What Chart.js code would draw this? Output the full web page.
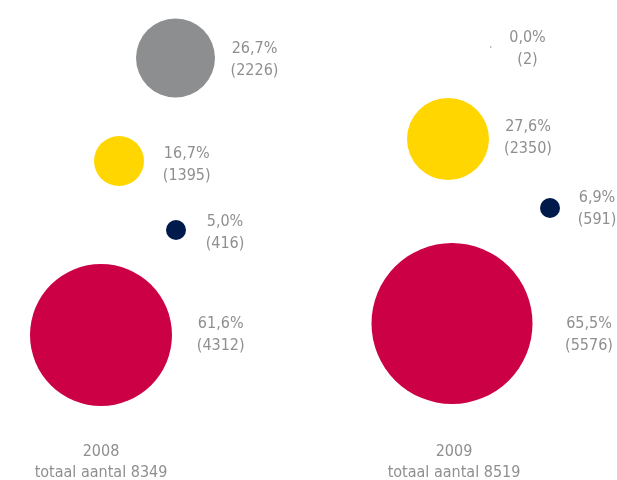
<!DOCTYPE html>
<html>
<head>
<meta charset="utf-8">
<script src="https://cdn.jsdelivr.net/npm/chart.js@4"></script>
<style>
  html, body { margin: 0; padding: 0; background: #ffffff; }
  #wrap { width: 617px; height: 480px; }
</style>
</head>
<body>
<div id="wrap"><canvas id="c" width="617" height="480"></canvas></div>
<script>
// ---- data ----
const years = ['2008', '2009'];
const totals = [8349, 8519];
const categories = ['grijs', 'geel', 'blauw', 'rood'];
const counts2008 = [2226, 1395, 416, 4312];
const pct2008 = [26.7, 16.7, 5.0, 61.6];
const counts2009 = [2, 2350, 591, 5576];
const pct2009 = [0.0, 27.6, 6.9, 65.5];

// ---- layout (scale units = canvas pixels) ----
const layout = {
  '2008': {
    cx: [175.5, 119, 176, 101],
    cy: [58, 161, 230, 335],
    r: [39.5, 25, 10, 71],
    labelX: [254.5, 186.7, 225, 220.7],
    labelY: [60, 165, 233, 335],
    titleX: 101
  },
  '2009': {
    cx: [490.7, 448, 550, 452],
    cy: [47, 139, 208, 323.5],
    r: [0.8, 41, 10, 80.5],
    labelX: [527.5, 528, 597, 589],
    labelY: [49, 138, 209, 334.5],
    titleX: 454
  }
};
const colors = ['#8d8e90', '#ffd600', '#001a4b', '#cc0044'];
const textColor = '#8f8f8f';
const textFont = '16px "DejaVu Sans Condensed", "DejaVu Sans", sans-serif';

const countsByYear = [counts2008, counts2009];
const pctByYear = [pct2008, pct2009];

function fmtPct(v) { return v.toFixed(1).replace('.', ',') + '%'; }

// Bubble controller without the automatic chart-area padding for radii,
// so the chart area covers the whole canvas.
class FlatBubbleController extends Chart.BubbleController {
  getMaxOverflow() { return false; }
}
FlatBubbleController.id = 'flatBubble';
FlatBubbleController.defaults = Chart.BubbleController.defaults;
FlatBubbleController.overrides = Chart.BubbleController.overrides;
Chart.register(FlatBubbleController);

const datasets = years.map((yr, i) => ({
  label: yr,
  data: categories.map((c, j) => ({
    x: layout[yr].cx[j],
    y: layout[yr].cy[j],
    r: layout[yr].r[j],
    count: countsByYear[i][j],
    pct: pctByYear[i][j]
  })),
  backgroundColor: colors,
  borderWidth: 0,
  hoverBorderWidth: 0
}));

const labelPlugin = {
  id: 'bubbleLabels',
  afterDatasetsDraw(chart) {
    const ctx = chart.ctx;
    const xs = chart.scales.x, ys = chart.scales.y;
    ctx.save();
    ctx.font = textFont;
    ctx.fillStyle = textColor;
    ctx.textAlign = 'center';
    ctx.textBaseline = 'middle';
    years.forEach((yr, i) => {
      const L = layout[yr];
      categories.forEach((c, j) => {
        const px = xs.getPixelForValue(L.labelX[j]);
        const py = ys.getPixelForValue(L.labelY[j]);
        ctx.fillText(fmtPct(pctByYear[i][j]), px, py - 11);
        ctx.fillText('(' + countsByYear[i][j] + ')', px, py + 11);
      });
      const tx = xs.getPixelForValue(L.titleX);
      ctx.fillText(yr, tx, ys.getPixelForValue(452));
      ctx.fillText('totaal aantal ' + totals[i], tx, ys.getPixelForValue(473));
    });
    ctx.restore();
  }
};

const chart = new Chart(document.getElementById('c'), {
  type: 'flatBubble',
  data: { datasets },
  options: {
    responsive: false,
    animation: false,
    layout: { padding: 0 },
    plugins: { legend: { display: false }, tooltip: { enabled: false } },
    scales: {
      x: { type: 'linear', min: 0, max: 617, display: false },
      y: { type: 'linear', min: 0, max: 480, reverse: true, display: false }
    },
    elements: { point: { borderWidth: 0 } },
    clip: false
  },
  plugins: [labelPlugin]
});

// Safety: align scale ranges with the chart area so one unit equals one pixel.
const area = chart.chartArea;
if (area.left !== 0 || area.top !== 0 || area.right !== 617 || area.bottom !== 480) {
  chart.options.scales.x.min = area.left;
  chart.options.scales.x.max = area.right;
  chart.options.scales.y.min = area.top;
  chart.options.scales.y.max = area.bottom;
  chart.update();
}
</script>
</body>
</html>
